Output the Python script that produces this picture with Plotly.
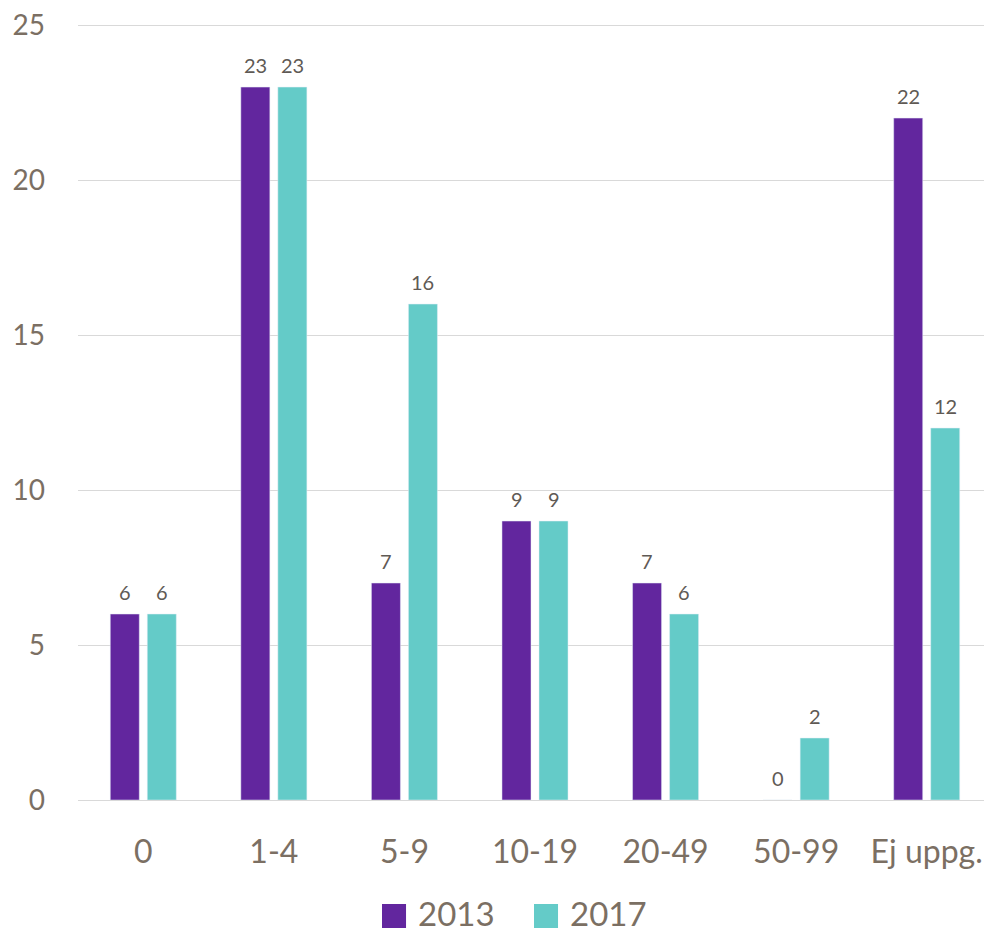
import plotly.graph_objects as go

categories = ["0", "1-4", "5-9", "10-19", "20-49", "50-99", "Ej uppg."]
values_2013 = [6, 23, 7, 9, 7, 0, 22]
values_2017 = [6, 23, 16, 9, 6, 2, 12]

purple = "#62269E"
teal = "#64CBC8"
tick_color = "#7B6F63"
label_color = "#5F5A55"

fig = go.Figure()
fig.add_trace(go.Bar(name="2013", x=categories, y=values_2013, marker_color=purple))
fig.add_trace(go.Bar(name="2017", x=categories, y=values_2017, marker_color=teal))

# value labels sit a bit higher above the bars than plotly's own outside text
for vals, dx in [(values_2013, -18.5), (values_2017, 18.5)]:
    for cat, v in zip(categories, vals):
        fig.add_annotation(x=cat, y=v, text=str(v), showarrow=False, xshift=dx, yshift=8,
                           yanchor="bottom", font=dict(size=20, color=label_color))

# page body has an 8px margin, so the figure is a bit smaller than the window
fig.update_layout(
    width=984, height=927,
    margin=dict(l=70, r=0, t=14, b=135),
    barmode="group", bargap=0.433, bargroupgap=0.216,
    plot_bgcolor="white", paper_bgcolor="white",
    font=dict(family="Lato, Open Sans, sans-serif", color=tick_color),
    showlegend=False,
)

# legend drawn by hand so the swatches can be as big as in the original
legend_items = [("2013", purple, 0.3326), ("2017", teal, 0.4989)]
for name, colour, x0 in legend_items:
    fig.add_shape(type="rect", xref="paper", yref="paper",
                  x0=x0, x1=x0 + 0.0263, y0=-0.1645, y1=-0.1337,
                  fillcolor=colour, line_width=0)
    fig.add_annotation(text=name, xref="paper", yref="paper", x=x0 + 0.037, y=-0.1452,
                       xanchor="left", yanchor="middle", showarrow=False,
                       font=dict(size=33, color=tick_color))

fig.update_yaxes(range=[0, 25.1], tickvals=[0, 5, 10, 15, 20, 25], showgrid=True,
                 gridcolor="#D9D9D9", gridwidth=1,
                 zeroline=True, zerolinecolor="#D9D9D9", zerolinewidth=1, automargin=False,
                 ticklabeloverflow="allow",
                 tickfont=dict(size=28, color=tick_color), ticklabelstandoff=32)
fig.update_xaxes(showline=False, automargin=False,
                 tickfont=dict(size=32, color=tick_color), ticklabelstandoff=30)

fig.write_html("out.html")
